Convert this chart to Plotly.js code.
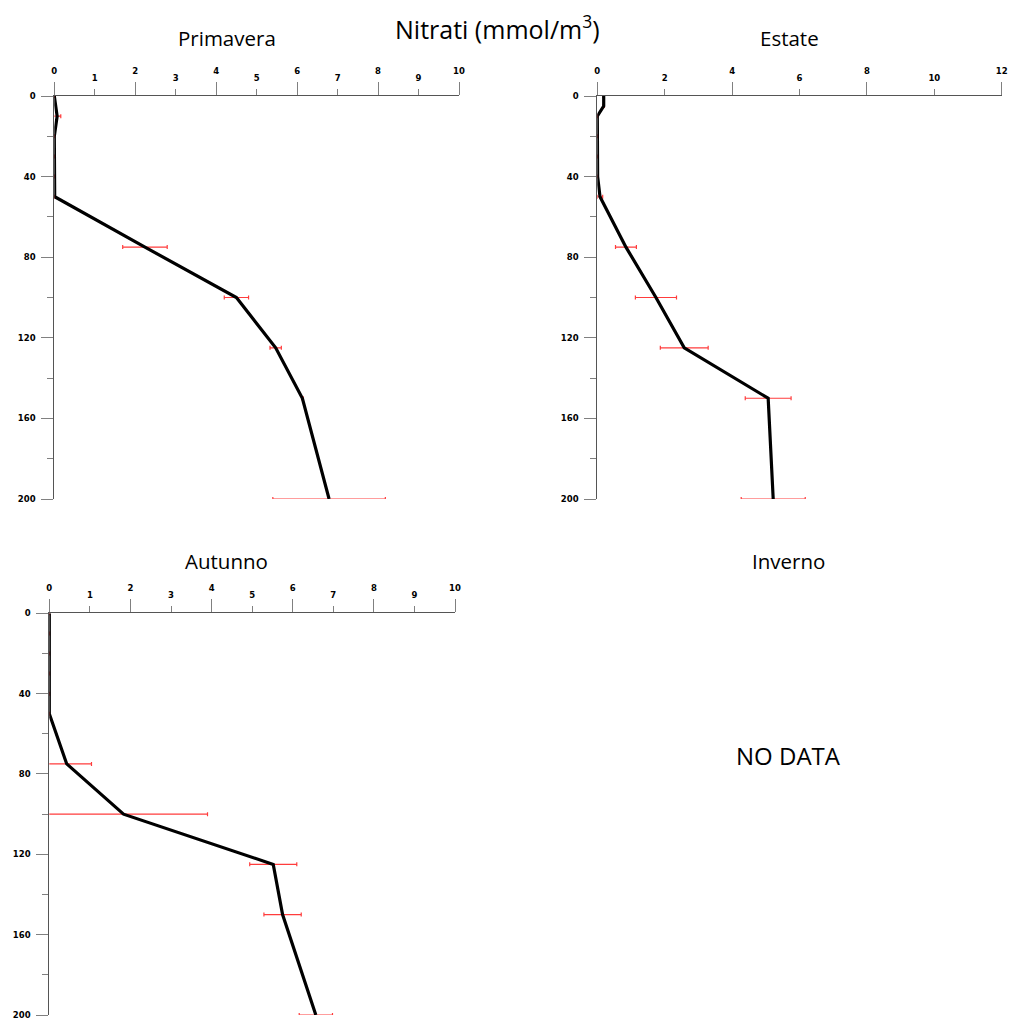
<!DOCTYPE html>
<html>
<head>
<meta charset="utf-8">
<script src="https://cdn.plot.ly/plotly-3.0.1.min.js"></script>
<style>html,body{margin:0;padding:0;background:#fff;}#chart{width:1011px;height:1021px;}</style>
</head>
<body>
<div id="chart"></div>
<script>
// ---- data ----
const depthPrimavera = [0, 10, 20, 30, 40, 50, 75, 100, 125, 150, 200];
const nitPrimavera   = [0, 0.07, 0, 0.01, 0.01, 0.01, 2.24, 4.5, 5.47, 6.13, 6.79];
const errPrimavera   = [0.01, 0.09, 0.01, 0.01, 0.01, 0.01, 0.55, 0.3, 0.14, 0.02, 1.39];

const depthEstate = [0, 5, 10, 20, 30, 40, 50, 75, 100, 125, 150, 200];
const nitEstate   = [0.19, 0.19, 0, 0, 0, 0.01, 0.08, 0.85, 1.74, 2.58, 5.07, 5.22];
const errEstate   = [0.02, 0.02, 0.01, 0.01, 0.01, 0.02, 0.08, 0.31, 0.61, 0.71, 0.68, 0.95];

const depthAutunno = [0, 10, 20, 30, 40, 50, 75, 100, 125, 150, 200];
const nitAutunno   = [0, 0, 0, 0, 0, 0, 0.43, 1.83, 5.52, 5.75, 6.57];
const errAutunno   = [0.01, 0.01, 0.01, 0.01, 0.01, 0.01, 0.61, 2.07, 0.58, 0.46, 0.41];

const majorTicks10 = [0, 2, 4, 6, 8, 10];
const minorTicks10 = [1, 3, 5, 7, 9];
const majorTicks12 = [0, 4, 8, 12];
const minorTicks12 = [2, 6, 10];
const depthMajor = [0, 40, 80, 120, 160, 200];
const depthMinor = [20, 60, 100, 140, 180];

const mainTitle = 'Nitrati (mmol/m<sup>3</sup>)';
const panelTitles = ['Primavera', 'Estate', 'Autunno', 'Inverno'];
const noDataText = 'NO DATA';

// ---- layout helpers ----
const W = 1011, H = 1021;
const px = v => v / W;
const py = v => 1 - v / H;

function trace(x, y, err, xa, ya) {
  return {
    type: 'scatter', mode: 'lines', x: x, y: y, xaxis: xa, yaxis: ya,
    cliponaxis: false,
    line: {color: '#000', width: 3.2},
    error_x: {type: 'data', array: err, visible: true, color: '#ff3c3c', thickness: 1.2, width: 2},
    hoverinfo: 'skip', showlegend: false
  };
}
function emptyTrace(xa, ya) {
  return {type: 'scatter', mode: 'lines', x: [], y: [], xaxis: xa, yaxis: ya,
          hoverinfo: 'skip', showlegend: false};
}

const tickFont = {family: 'DejaVu Sans, sans-serif', size: 8.5, color: '#000', weight: 'bold'};

function mainX(domain, range, tv, mv, anchor) {
  return {
    domain: domain, range: range, side: 'top', anchor: anchor,
    tickmode: 'array', tickvals: tv, ticktext: tv.map(String),
    ticks: 'outside', ticklen: 13, tickwidth: 1, tickcolor: '#808080',
    minor: {tickmode: 'array', tickvals: mv, ticks: 'outside', ticklen: 6, tickwidth: 1, tickcolor: '#808080'},
    showline: true, linecolor: '#555', linewidth: 1,
    showgrid: false, zeroline: false, tickfont: tickFont, ticklabelstandoff: 5,
    fixedrange: true
  };
}
function oddX(overlay, range, tv, anchor, domain) {
  return {
    overlaying: overlay, domain: domain, range: range, side: 'top', anchor: anchor,
    tickmode: 'array', tickvals: tv, ticktext: tv.map(String),
    ticks: 'outside', ticklen: 6, tickwidth: 1, tickcolor: '#808080',
    showline: false, showgrid: false, zeroline: false,
    tickfont: tickFont, ticklabelstandoff: 5, fixedrange: true
  };
}
function yAx(domain, anchor) {
  return {
    domain: domain, range: [200, 0], anchor: anchor,
    tickmode: 'array', tickvals: depthMajor, ticktext: depthMajor.map(String),
    ticks: 'outside', ticklen: 12, tickwidth: 1, tickcolor: '#808080',
    minor: {tickmode: 'array', tickvals: depthMinor, ticks: 'outside', ticklen: 6, tickwidth: 1, tickcolor: '#808080'},
    showline: true, linecolor: '#555', linewidth: 1,
    showgrid: false, zeroline: false, tickfont: tickFont, ticklabelstandoff: 4,
    ticklabeloverflow: 'allow', fixedrange: true
  };
}

const dPx = [px(54.3), px(459)];
const dEx = [px(597.3), px(1001.7)];
const dAx = [px(49.3), px(455)];
const dTopY = [py(499), py(96)];
const dBotY = [py(1015), py(613.3)];

const data = [
  trace(nitPrimavera, depthPrimavera, errPrimavera, 'x', 'y'),
  trace(nitEstate, depthEstate, errEstate, 'x2', 'y2'),
  trace(nitAutunno, depthAutunno, errAutunno, 'x3', 'y3'),
  emptyTrace('x4', 'y'),
  emptyTrace('x5', 'y2'),
  emptyTrace('x6', 'y3')
];

const titleFont = {family: 'Open Sans, Noto Sans, sans-serif', color: '#000'};
function ann(text, x, y, size) {
  return {text: text, xref: 'paper', yref: 'paper', x: px(x), y: py(y),
          xanchor: 'center', yanchor: 'middle', showarrow: false,
          font: Object.assign({}, titleFont, {size: size})};
}

const layout = {
  width: W, height: H,
  margin: {l: 0, r: 0, t: 0, b: 0},
  paper_bgcolor: '#fff', plot_bgcolor: '#fff',
  showlegend: false,
  xaxis: mainX(dPx, [0, 10], majorTicks10, minorTicks10, 'y'),
  yaxis: yAx(dTopY, 'x'),
  xaxis2: mainX(dEx, [0, 12], majorTicks12, minorTicks12, 'y2'),
  yaxis2: yAx(dTopY, 'x2'),
  xaxis3: mainX(dAx, [0, 10], majorTicks10, minorTicks10, 'y3'),
  yaxis3: yAx(dBotY, 'x3'),
  xaxis4: oddX('x', [0, 10], minorTicks10, 'y', dPx),
  xaxis5: oddX('x2', [0, 12], minorTicks12, 'y2', dEx),
  xaxis6: oddX('x3', [0, 10], minorTicks10, 'y3', dAx),
  annotations: [
    ann(mainTitle, 497, 28, 25),
    ann(panelTitles[0], 227, 38, 20.5),
    ann(panelTitles[1], 789, 38, 20.5),
    ann(panelTitles[2], 226, 561, 20.5),
    ann(panelTitles[3], 788, 561, 20.5),
    ann(noDataText, 788, 755, 24)
  ]
};

Plotly.newPlot('chart', data, layout, {staticPlot: true, displayModeBar: false});
</script>
</body>
</html>
